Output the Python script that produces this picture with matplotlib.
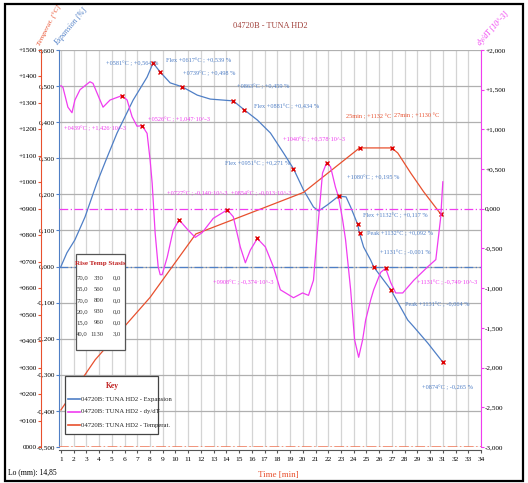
import matplotlib
matplotlib.use("Agg")
import matplotlib.pyplot as plt
from matplotlib.patches import Rectangle
from matplotlib.lines import Line2D
from matplotlib.ticker import FuncFormatter

# ---- data ----
exp_t = [1.0, 1.47, 2.10, 2.89, 3.83, 4.54, 5.41, 6.67, 7.77, 8.24, 8.80, 9.58, 10.53,
         11.71, 12.73, 14.54, 15.41, 16.43, 17.46, 18.48, 19.27, 20.06, 20.84, 21.24,
         21.94, 22.81, 23.40, 23.76, 24.31, 24.46, 24.78, 25.33, 25.57, 26.91, 28.24,
         28.72, 29.82, 31.0]
exp_v = [0.000, 0.038, 0.074, 0.137, 0.232, 0.295, 0.370, 0.461, 0.525, 0.564, 0.539,
         0.509, 0.498, 0.475, 0.464, 0.459, 0.434, 0.406, 0.370, 0.315, 0.271, 0.212,
         0.165, 0.154, 0.171, 0.195, 0.193, 0.165, 0.117, 0.092, 0.054, 0.018, -0.001,
         -0.064, -0.148, -0.167, -0.212, -0.265]

dy_t = [1.0, 1.16, 1.55, 1.87, 2.10, 2.50, 3.28, 3.52, 4.07, 4.31, 4.86, 5.80, 6.20,
        6.59, 6.98, 7.38, 7.77, 8.01, 8.17, 8.40, 8.64, 8.80, 8.95, 9.35, 9.82, 10.29,
        11.0, 11.55, 12.10, 12.97, 14.07, 14.54, 15.09, 15.49, 15.88, 16.43, 17.06,
        17.69, 18.24, 19.27, 19.98, 20.45, 20.84, 21.16, 21.39, 21.55, 21.87, 22.18,
        22.57, 22.81, 23.13, 23.36, 23.76, 24.07, 24.39, 24.70, 24.94, 25.33, 25.57,
        26.12, 26.51, 26.91, 27.30, 27.85, 28.72, 29.82, 30.45, 30.84, 31.0]
dy_v = [1.55, 1.53, 1.28, 1.21, 1.37, 1.50, 1.60, 1.58, 1.37, 1.28, 1.37, 1.426, 1.37,
        1.16, 1.04, 1.047, 0.95, 0.61, 0.32, -0.30, -0.73, -0.83, -0.83, -0.61, -0.27,
        -0.140, -0.27, -0.36, -0.30, -0.12, -0.013, -0.10, -0.48, -0.68, -0.52, -0.374,
        -0.48, -0.73, -1.02, -1.12, -1.06, -1.09, -0.90, -0.27, 0.15, 0.45, 0.578, 0.53,
        0.27, 0.15, -0.14, -0.39, -1.02, -1.65, -1.87, -1.65, -1.40, -1.15, -1.02,
        -0.80, -0.749, -0.93, -1.06, -1.06, -0.90, -0.73, -0.64, -0.10, 0.34]

temp_t = [1.0, 3.7, 8.0, 11.6, 16.9, 20.06, 24.46, 26.98, 27.46, 28.48, 29.5, 30.84]
temp_v = [140, 330, 565, 805, 903, 962, 1130, 1130, 1111, 1035, 964, 880]

exp_mark_t = [8.24, 8.80, 10.53, 14.54, 15.41, 19.27, 22.81, 24.31, 24.46, 25.57, 26.91, 31.0]
exp_mark_v = [0.564, 0.539, 0.498, 0.459, 0.434, 0.271, 0.195, 0.117, 0.092, -0.001, -0.064, -0.265]
dy_mark_t = [5.80, 7.38, 10.29, 14.07, 16.43, 21.87, 26.51]
dy_mark_v = [1.426, 1.047, -0.140, -0.013, -0.374, 0.578, -0.749]
temp_mark_t = [24.46, 26.98, 30.84]
temp_mark_v = [1130, 1130, 880]

rise = [70.0, 55.0, 70.0, 20.0, 15.0, 40.0]
target = [330, 560, 800, 930, 960, 1130]
stasis = [0.0, 0.0, 0.0, 0.0, 0.0, 3.0]

key_labels = ["04720B: TUNA HD2 - Expansion", "04720B: TUNA HD2 - dy/dT",
              "04720B: TUNA HD2 - Temperat."]

BLUE = "#4f7fc6"
MAG = "#f03cf0"
RED = "#e8502e"
MARK = "#e00000"

# label text, x, y (expansion scale), colour
notes = [
    ("+0581°C ; +0,564 %", 4.53, 0.564, BLUE),
    ("Flex +0617°C ; +0,539 %", 9.25, 0.570, BLUE),
    ("+0739°C ; +0,498 %", 10.58, 0.534, BLUE),
    ("+0863°C ; +0,459 %", 14.83, 0.498, BLUE),
    ("Flex +0881°C ; +0,434 %", 16.16, 0.445, BLUE),
    ("Flex +0951°C ; +0,271 %", 13.88, 0.287, BLUE),
    ("+1080°C ; +0,195 %", 23.47, 0.248, BLUE),
    ("Flex +1132°C ; +0,117 %", 24.72, 0.143, BLUE),
    ("Peak +1132°C ; +0,092 %", 25.04, 0.093, BLUE),
    ("+1131°C ; -0,001 %", 26.06, 0.038, BLUE),
    ("Peak +1131°C ; -0,064 %", 28.02, -0.106, BLUE),
    ("+0874°C ; -0,265 %", 29.36, -0.334, BLUE),
    ("+0439°C ; +1,426·10^-3", 1.24, 0.384, MAG),
    ("+0526°C ; +1,047·10^-3", 7.83, 0.409, MAG),
    ("+1040°C ; +0,578·10^-3", 18.44, 0.353, MAG),
    ("+0727°C ; -0,140·10^-3", 9.30, 0.204, MAG),
    ("+0854°C ; -0,013·10^-3", 14.35, 0.204, MAG),
    ("+0908°C ; -0,374·10^-3", 12.94, -0.045, MAG),
    ("+1131°C ; -0,749·10^-3", 28.97, -0.043, MAG),
    ("25min ; +1132 °C", 23.39, 0.417, RED),
    ("27min ; +1130 °C", 27.16, 0.420, RED),
]

plt.rcParams["font.family"] = ["Liberation Serif", "DejaVu Serif"]

W, H = 528, 483
fig = plt.figure(figsize=(W / 100, H / 100), dpi=100)


def fx(px):
    return px / W


def fy(py):
    return 1 - py / H


ax = fig.add_axes([fx(59), fy(447), (481 - 59) / W, (447 - 50) / H])
axT = ax.twinx()
axD = ax.twinx()

# expansion axis (main)
ax.set_xlim(0.85, 34)
ax.set_ylim(-0.5, 0.6)
ax.set_xticks(range(1, 35))
ax.set_yticks([round(-0.5 + 0.1 * i, 1) for i in range(12)])
ax.yaxis.set_major_formatter(FuncFormatter(
    lambda v, p: ("%.3f" % (0.0 if abs(v) < 1e-9 else v)).replace(".", ",")))
ax.grid(axis="x", color="#d4d4d4", lw=0.9)
ax.grid(axis="y", color="#b0b0b0", lw=0.9)
ax.set_axisbelow(True)
for s in ["top", "right"]:
    ax.spines[s].set_visible(False)
ax.spines["left"].set_color(BLUE)
ax.spines["bottom"].set_color("#555555")
ax.spines["bottom"].set_position(("outward", 2))
ax.tick_params(axis="x", labelsize=5.3, length=2.5, pad=3, color="#555555")
ax.tick_params(axis="y", labelsize=5.2, length=2, pad=1, color=BLUE)
ax.axhline(0, color=BLUE, lw=0.9, ls=(0, (7, 2, 1, 2)))
ax.plot(exp_t, exp_v, color=BLUE, lw=0.9)

# temperature axis, further left
axT.set_ylim(0, 1500)
axT.set_yticks(range(0, 1501, 100))
axT.yaxis.set_major_formatter(FuncFormatter(
    lambda v, p: "0000" if v == 0 else "%+05d" % v))
axT.yaxis.set_ticks_position("left")
axT.spines["left"].set_visible(True)
axT.spines["left"].set_position(("axes", -0.0427))
axT.spines["left"].set_color(RED)
for s in ["top", "right", "bottom"]:
    axT.spines[s].set_visible(False)
axT.tick_params(axis="y", labelsize=5.2, length=2, pad=1, color=RED)
axT.axhline(0, color="#f07a5a", lw=1.1, ls="-.")
axT.plot(temp_t, temp_v, color=RED, lw=0.9)

# dy/dT axis, right
axD.set_ylim(-3, 2)
axD.set_yticks([-3 + 0.5 * i for i in range(11)])
axD.yaxis.set_major_formatter(FuncFormatter(
    lambda v, p: "0,000" if abs(v) < 1e-9 else ("%+.3f" % v).replace(".", ",")))
axD.spines["right"].set_color(MAG)
for s in ["top", "left", "bottom"]:
    axD.spines[s].set_visible(False)
axD.tick_params(axis="y", labelsize=5.2, length=2, pad=1, color=MAG)
axD.axhline(0, color=MAG, lw=0.9, ls=(0, (7, 2, 1, 2)))
axD.plot(dy_t, dy_v, color=MAG, lw=0.9)

# markers on top
ax_m = ax.twinx()
ax_m.set_ylim(-0.5, 0.6)
ax_m.axis("off")
ax_m.plot(exp_mark_t, exp_mark_v, ls="none", marker="x", ms=3.5, mew=1, color=MARK)
axD.plot(dy_mark_t, dy_mark_v, ls="none", marker="x", ms=3.5, mew=1, color=MARK)
axT.plot(temp_mark_t, temp_mark_v, ls="none", marker="x", ms=3.5, mew=1, color=MARK)

for txt, x, y, c in notes:
    ax_m.text(x, y, txt, color=c, fontsize=4.5, va="center", ha="left")

# titles
fig.text(fx(270), fy(26), "04720B - TUNA HD2", color="#a0403a", fontsize=6,
         ha="center", va="center")
fig.text(fx(42), fy(47), "Temperat. [°C]", color=RED, fontsize=5.3, rotation=63,
         rotation_mode="anchor", ha="left", va="bottom", style="italic")
fig.text(fx(59), fy(47), "Expansion [%]", color=BLUE, fontsize=5.5, rotation=50,
         rotation_mode="anchor", ha="left", va="bottom", style="italic")
fig.text(fx(482), fy(47), "dy/dT [10^-3]", color=MAG, fontsize=5.5, rotation=48,
         rotation_mode="anchor", ha="left", va="bottom", style="italic")
fig.text(fx(278), fy(475), "Time [min]", color=RED, fontsize=6.5, ha="center", va="center")
fig.text(fx(8), fy(472), "Lo (mm): 14,85", color="black", fontsize=5.5, ha="left", va="center")

# rise / temp / stasis table
fig.add_artist(Rectangle((fx(76), fy(350)), (125 - 76) / W, (350 - 254) / H,
                         transform=fig.transFigure, facecolor="white",
                         edgecolor="#555555", lw=0.9, zorder=5))
fig.text(fx(100), fy(263), "Rise Temp Stasis", color="#c02020", fontsize=5,
         weight="bold", ha="center", va="center", zorder=6)
for i in range(len(rise)):
    yy = fy(278 + i * 11.2)
    fig.text(fx(88), yy, ("%.1f" % rise[i]).replace(".", ","), fontsize=4.8,
             ha="right", va="center", color="#333333", zorder=6)
    fig.text(fx(104), yy, "%d" % target[i], fontsize=4.8,
             ha="right", va="center", color="#333333", zorder=6)
    fig.text(fx(121), yy, ("%.1f" % stasis[i]).replace(".", ","), fontsize=4.8,
             ha="right", va="center", color="#333333", zorder=6)

# key
fig.add_artist(Rectangle((fx(65), fy(434)), (158 - 65) / W, (434 - 376) / H,
                         transform=fig.transFigure, facecolor="white",
                         edgecolor="#444444", lw=0.9, zorder=5))
fig.text(fx(112), fy(386), "Key", color="#c02020", fontsize=5.5, weight="bold",
         ha="center", va="center", zorder=6)
for i, (lab, c) in enumerate(zip(key_labels, [BLUE, MAG, RED])):
    yy = fy(399 + i * 13)
    fig.add_artist(Line2D([fx(68), fx(80)], [yy, yy], transform=fig.transFigure,
                          color=c, lw=1.2, zorder=6))
    fig.text(fx(81), yy, lab, fontsize=4.8, ha="left", va="center",
             color="#222222", zorder=6)

# outer frame
fig.add_artist(Rectangle((fx(5), fy(481)), (523 - 5) / W, (481 - 4) / H,
                         transform=fig.transFigure, fill=False,
                         edgecolor="black", lw=1.6, zorder=10))

fig.savefig("out.png", dpi=100)
